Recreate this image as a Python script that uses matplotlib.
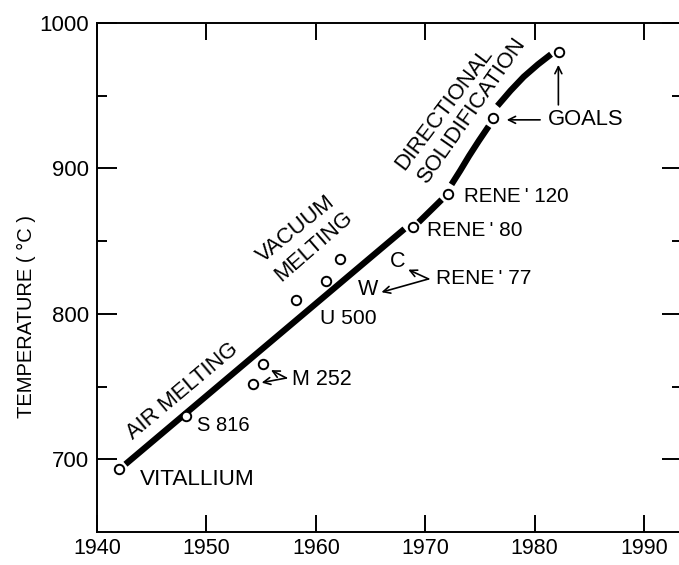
import matplotlib
matplotlib.use('Agg')
import matplotlib.pyplot as plt
from matplotlib.ticker import FixedLocator, NullFormatter

plt.rcParams['font.family'] = ['Liberation Sans', 'DejaVu Sans']

# ---------------- data ----------------
alloy_years = [1942.0, 1948.1, 1954.3, 1955.2, 1958.2, 1960.9, 1962.2, 1968.9, 1972.1, 1976.2, 1982.2]
alloy_temps = [693.0, 730.0, 751.5, 765.5, 809.5, 822.5, 837.5, 860.0, 882.5, 935.0, 980.0]

seg1_years = [1942.6, 1968.1]
seg1_temps = [696.6, 858.4]
seg2_years = [1969.4, 1971.5]
seg2_temps = [863.0, 878.5]
seg3_years = [1972.4, 1973.2, 1974.0, 1974.9, 1975.8]
seg3_temps = [889.0, 898.5, 908.5, 919.0, 929.0]
seg4_years = [1976.6, 1977.8, 1979.0, 1980.3, 1981.5]
seg4_temps = [943.0, 953.5, 963.0, 971.5, 978.5]

label_texts = ['VITALLIUM', 'S 816', 'M 252', 'U 500', "RENE\u2009' 77", "RENE\u2009' 80", "RENE\u2009' 120", 'GOALS']
label_x = [1943.9, 1949.1, 1957.8, 1960.4, 1971.0, 1970.2, 1973.5, 1981.2]
label_y = [686.3, 722.9, 755.0, 796.6, 824.0, 857.2, 880.8, 933.6]
label_sizes = [16.2, 14.5, 15.5, 15.2, 15, 15, 14.8, 15.8]

letter_texts = ['C', 'W']
letter_x = [1967.5, 1964.8]
letter_y = [836.1, 816.7]

era_texts = ['AIR MELTING', 'VACUUM', 'MELTING', 'DIRECTIONAL', 'SOLIDIFICATION']
era_x = [1947.8, 1958.2, 1959.8, 1971.7, 1974.25]
era_y = [747.0, 857.9, 846.4, 940.8, 940.3]
era_rot = [40, 39, 41, 53, 55]

arrow_tail_x = [1957.3, 1957.3, 1970.3, 1970.3, 1980.5, 1982.17]
arrow_tail_y = [755.9, 755.9, 824.0, 824.0, 933.4, 943.7]
arrow_tip_x = [1955.9, 1955.05, 1968.45, 1966.0, 1977.45, 1982.17]
arrow_tip_y = [761.3, 752.7, 830.4, 814.9, 933.4, 971.2]

x_ticks = [1940, 1950, 1960, 1970, 1980, 1990]
y_major = [700, 800, 900, 1000]
y_minor = [750, 850, 950]

# ---------------- figure ----------------
fig = plt.figure(figsize=(6.79, 5.65), dpi=100)
ax = fig.add_axes([0.1429, 0.0584, 0.8620, 0.9009])
ax.set_xlim(1940, 1993.5)
ax.set_ylim(650, 1000)

for xs, ys in [(seg1_years, seg1_temps), (seg2_years, seg2_temps),
               (seg3_years, seg3_temps), (seg4_years, seg4_temps)]:
    ax.plot(xs, ys, color='black', lw=4.5, solid_capstyle='butt',
            solid_joinstyle='round', zorder=2)

ax.plot(alloy_years, alloy_temps, linestyle='none', marker='o', ms=6.8,
        mfc='white', mec='black', mew=1.4, zorder=3)

for t, x, y, s in zip(label_texts, label_x, label_y, label_sizes):
    ax.text(x, y, t, ha='left', va='center', fontsize=s, color='black')

for t, x, y in zip(letter_texts, letter_x, letter_y):
    ax.text(x, y, t, ha='center', va='center', fontsize=15.5, color='black')

for t, x, y, r in zip(era_texts, era_x, era_y, era_rot):
    ax.text(x, y, t, ha='center', va='center', rotation=r,
            rotation_mode='anchor', fontsize=15.8, color='black')

for tx, ty, hx, hy in zip(arrow_tail_x, arrow_tail_y, arrow_tip_x, arrow_tip_y):
    ax.annotate('', xy=(hx, hy), xytext=(tx, ty),
                arrowprops=dict(arrowstyle='->,head_length=0.5,head_width=0.25',
                                color='black', lw=1.2, shrinkA=0, shrinkB=0))

# ticks
ax.xaxis.set_major_locator(FixedLocator(x_ticks))
ax.yaxis.set_major_locator(FixedLocator(y_major))
ax.yaxis.set_minor_locator(FixedLocator(y_minor))
ax.yaxis.set_minor_formatter(NullFormatter())
ax.tick_params(axis='x', which='major', direction='in', length=12, width=1.4,
               top=True, bottom=True, labelsize=15.5, pad=4.5)
ax.tick_params(axis='y', which='major', direction='in', length=14.5, width=1.4,
               left=True, right=True, labelsize=16, pad=6)
ax.tick_params(axis='y', which='minor', direction='in', length=7.5, width=1.4,
               left=True, right=True)

for sp in ax.spines.values():
    sp.set_linewidth(1.4)

fig.text(26 / 679, 1 - 316.5 / 565, 'TEMPERATURE ( °C )', rotation=90,
         ha='center', va='center', fontsize=14.5, color='black')

fig.savefig('out.png', dpi=100)
